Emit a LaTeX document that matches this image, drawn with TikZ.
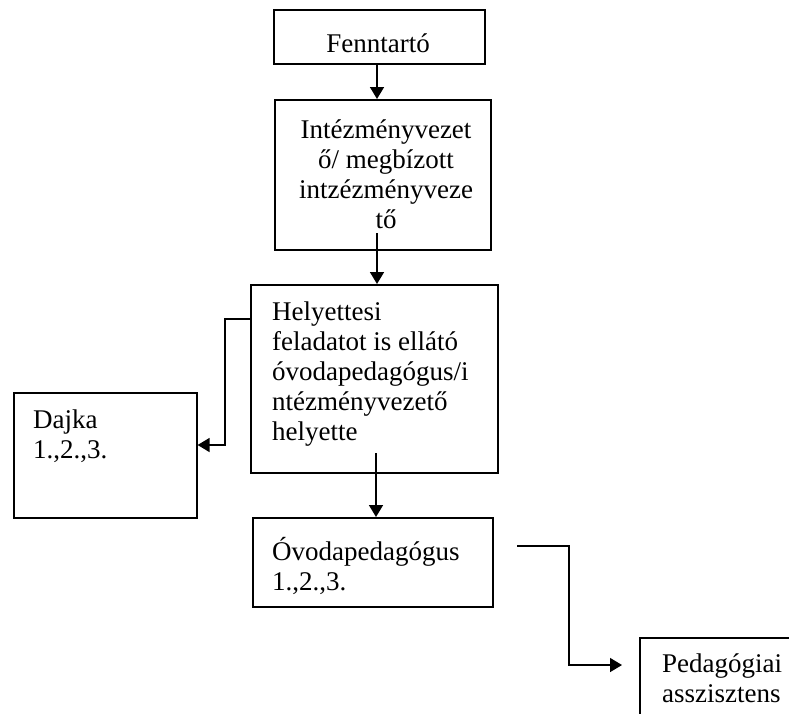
\documentclass[tikz,border=0pt]{standalone}
\usepackage{fontspec}
\setmainfont{Liberation Serif}
\usetikzlibrary{arrows.meta}
\begin{document}
\begin{tikzpicture}[x=1pt,y=-1pt,
  boxn/.style={draw, line width=1.6pt, rectangle, inner sep=0pt, anchor=north west},
  txt/.style={inner sep=0pt, font=\fontsize{27}{30}\selectfont},
  arr/.style={line width=1.6pt, -{Triangle[length=12pt,width=14pt]}}]
\useasboundingbox (0,0) rectangle (789,713);
% boxes
\node[boxn, minimum width=211pt, minimum height=54pt] (fen) at (273,9) {};
\node[boxn, minimum width=216pt, minimum height=150pt] (int) at (274,99) {};
\node[boxn, minimum width=247pt, minimum height=188pt] (hely) at (250,284) {};
\node[boxn, minimum width=183pt, minimum height=125pt] (dajka) at (13,392) {};
\node[boxn, minimum width=240pt, minimum height=89pt] (ovo) at (252,517) {};
\node[boxn, minimum width=200pt, minimum height=120pt] (ped) at (639,637) {};
% texts
\node[txt, anchor=base] (fent) at (378,52) {Fenntartó};
\node[txt, anchor=north, align=center] (intt) at (386,117) {\strut Intézményvezet\\ő/ megbízott\\intzézményveze\\tő};
\node[txt, anchor=north west, align=left] (helyt) at (272,299) {\strut Helyettesi\\feladatot is ellátó\\óvodapedagógus/i\\ntézményvezető\\helyette};
\node[txt, anchor=north west, align=left] (dajkat) at (33,407) {\strut Dajka\\1.,2.,3.};
\node[txt, anchor=north west, align=left] (ovot) at (272,537) {\strut Óvodapedagógus\\1.,2.,3.};
\node[txt, anchor=north west, align=left] (pedt) at (662,651) {\strut Pedagógiai\\asszisztens};
% connector points
\coordinate (a1) at (377,233);
\coordinate (a2) at (376,453);
\coordinate (b1) at (250,319);
\coordinate (b2) at (225,445);
\coordinate (c1) at (517,546);
\coordinate (c2) at (569,665);
\coordinate (c3) at (622,665);
% connectors
\draw[arr] (fen.south -| a1) -- (a1 |- int.north);
\draw[arr] (a1) -- (a1 |- hely.north);
\draw[arr] (a2) -- (a2 |- ovo.north);
\draw[arr] (b1) -| (b2) -- (b2 -| dajka.east);
\draw[arr] (c1) -| (c2) -- (c3);
\end{tikzpicture}
\end{document}
